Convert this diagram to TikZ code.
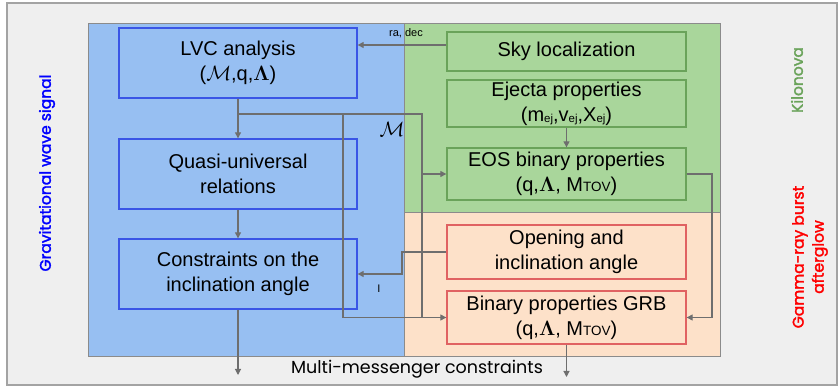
\documentclass[tikz,border=0pt]{standalone}
\usepackage[no-math]{fontspec}
\setmainfont{Liberation Sans}
\newfontfamily\labelfont{Poppins}
\newfontfamily\sidefont[FakeBold=2]{Poppins}
\usetikzlibrary{arrows.meta}
\definecolor{bgfill}{HTML}{EFEFEF}
\definecolor{frame}{HTML}{A3A3A3}
\definecolor{bluefill}{HTML}{97BFF2}
\definecolor{blueline}{HTML}{3A55E6}
\definecolor{greenfill}{HTML}{A9D69B}
\definecolor{greenline}{HTML}{6AA35A}
\definecolor{orangefill}{HTML}{FDE1C9}
\definecolor{redline}{HTML}{E06262}
\definecolor{conn}{HTML}{6E6E6E}
\newcommand\lowsub[1]{\raisebox{-1pt}{\fontsize{11.5}{11.5}\selectfont #1}}
\newcommand\smallup[1]{{\fontsize{13.5}{13.5}\selectfont #1}}
\begin{document}
\begin{tikzpicture}[x=1pt,y=-1pt,
  box/.style={rectangle,draw,line width=1.3pt,inner sep=0pt,align=center,
    font=\fontsize{20}{25}\selectfont},
  bluebox/.style={box,draw=blueline,fill=bluefill,minimum width=238pt,minimum height=70pt},
  greenbox/.style={box,draw=greenline,fill=greenfill,minimum width=239pt},
  redbox/.style={box,draw=redline,fill=orangefill,minimum width=239pt},
  region/.style={draw=conn!80,line width=0.8pt},
  arr/.style={draw=conn,line width=1.1pt,-{Triangle[length=6pt,width=6pt]}},
  ln/.style={draw=conn,line width=1.1pt},
  small/.style={font=\fontsize{11}{12}\selectfont},
  side/.style={font=\sidefont\fontsize{15.5}{20}\selectfont,rotate=90,align=center}]
\useasboundingbox (0,0) rectangle (839,387);
\fill[bgfill,draw=frame,line width=1.5pt] (7,3) rectangle (837,385);
\path[region,fill=bluefill] (88,23) rectangle (404,356);
\path[region,fill=greenfill] (404,23) rectangle (720,212);
\path[region,fill=orangefill] (404,212) rectangle (720,356);

\node[bluebox] (lvc) at (238,63) {LVC analysis\\($\mathcal{M}$,q,$\mathbf{\Lambda}$)};
\node[bluebox] (quasi) at (238,174) {Quasi-universal\\relations};
\node[bluebox] (constr) at (238,274) {Constraints on the\\inclination angle};
\node[greenbox,minimum height=39pt] (sky) at (566.5,51.5) {Sky localization};
\node[greenbox,minimum height=47pt] (ejecta) at (566.5,103.5) {Ejecta properties\\(m\lowsub{ej},v\lowsub{ej},X\lowsub{ej})};
\node[greenbox,minimum height=52pt] (eos) at (566.5,174) {EOS binary properties\\(q,$\mathbf{\Lambda}$, M\smallup{TOV})};
\node[redbox,minimum height=54pt] (open) at (566.5,252) {Opening and\\inclination angle};
\node[redbox,minimum height=53pt] (grb) at (566.5,317.5) {Binary properties GRB\\(q,$\mathbf{\Lambda}$, M\smallup{TOV})};

\draw[arr] ([yshift=6.5pt]sky.west) -- ([yshift=6.5pt]sky.west -| lvc.east);
\node[small] (radec) at (406,33) {ra, dec};

\draw[arr] (lvc.south) -- (quasi.north);
\draw[arr] (quasi.south) -- (constr.north);
\coordinate (m1) at (238,114);
\coordinate (m2) at (422,114);
\coordinate (m3) at (343,114);
\coordinate (m4) at (343,317.5);
\coordinate (m5) at (422,317.5);
\draw[arr] (m1) -- (m2) -- (m5) -- (grb.west);
\draw[ln] (m3) -- (m4) -- (m5);
\draw[arr] (m2 |- eos.west) -- (eos.west);
\node (mlabel) at (392,129) {\fontsize{20}{20}\selectfont$\mathcal{M}$};

\draw[arr] (ejecta.south) -- (eos.north);
\coordinate (e1) at (712,174);
\coordinate (e2) at (712,317.5);
\draw[arr] (eos.east) -- (e1) -- (e2) -- (grb.east);

\coordinate (o1) at (402,252);
\coordinate (o2) at (402,274);
\draw[arr] (open.west) -- (o1) -- (o2) -- (constr.east);
\node[small] (ilabel) at (379,289) {I};

\coordinate (c1) at (238,375);
\coordinate (g1) at (566.5,377);
\draw[arr] (constr.south) -- (c1);
\draw[arr] (grb.south) -- (g1);

\node[font=\labelfont\fontsize{17.5}{19}\selectfont] (mm) at (417,369) {Multi-messenger constraints};
\node[side,text=blue] (gw) at (47,173) {Gravitational wave signal};
\node[side,text=greenline] (kn) at (797,80) {Kilonova};
\node[side,text=red] (gamma) at (810,257) {Gamma-ray burst\\afterglow};
\end{tikzpicture}
\end{document}
